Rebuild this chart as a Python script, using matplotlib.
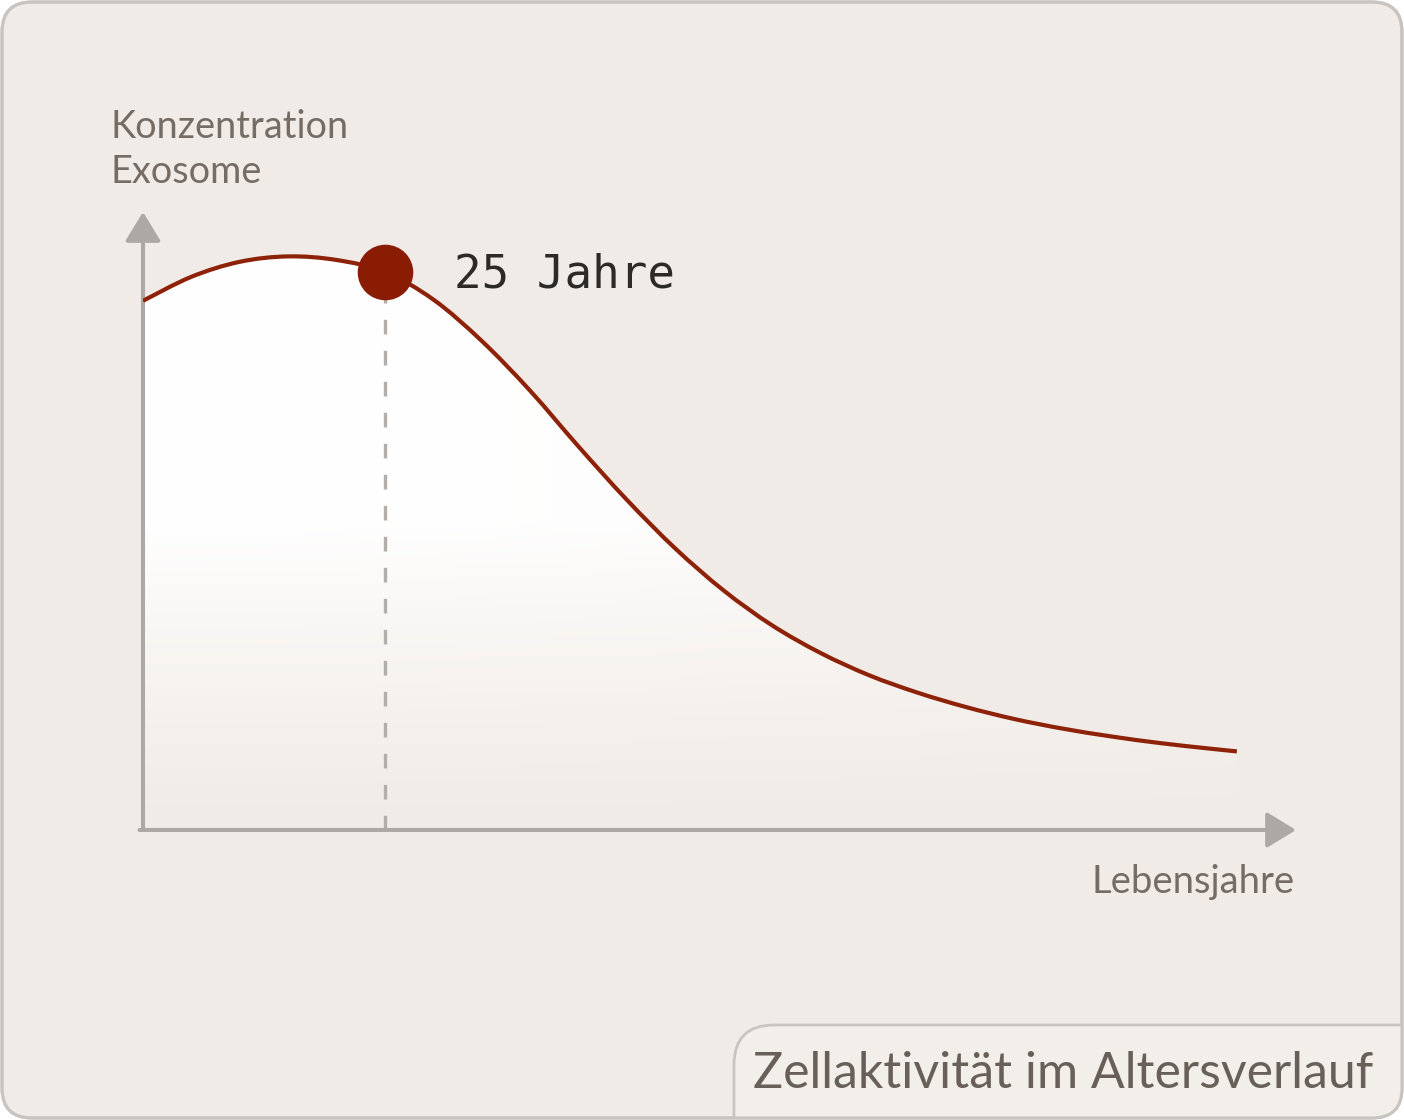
import matplotlib; matplotlib.use('Agg')
import matplotlib.pyplot as plt
import numpy as np
from matplotlib.patches import FancyBboxPatch, PathPatch
from matplotlib.path import Path

BG = '#f0ebe6'
BORDER = '#c9c4c0'
AXIS = '#ada8a4'
CURVE = '#8e2208'
DOT = '#8a1c04'
LABEL = '#756c66'
TITLE = '#685f59'
SANS = ['Lato', 'DejaVu Sans']

# concentration of exosomes over age
ages = [0, 5, 10, 15, 20, 25, 30, 35, 40, 45, 50, 55, 60, 65, 70, 75, 80, 85,
        90, 95, 100, 105, 110, 113]
conc = [88.2, 92.2, 94.7, 95.6, 95.0, 93.0, 88.4, 81.5, 73.2, 63.9, 55.0, 46.9,
        39.9, 34.1, 29.5, 25.8, 22.9, 20.5, 18.5, 16.9, 15.6, 14.5, 13.6, 13.1]
marker_age = 25
marker_label = '25 Jahre'
y_label = ['Konzentration', 'Exosome']
x_label = 'Lebensjahre'
title = 'Zellaktivität im Altersverlauf'

fig = plt.figure(figsize=(14.04, 11.2), dpi=100, facecolor='white')

# background card + tab
bg = fig.add_axes([0, 0, 1, 1])
bg.set_xlim(0, 1404)
bg.set_ylim(1120, 0)
bg.axis('off')
card = FancyBboxPatch((2, 2), 1400, 1116, boxstyle='round,pad=0,rounding_size=30',
                      fc=BG, ec=BORDER, lw=2.2, zorder=1)
bg.add_patch(card)
tab = FancyBboxPatch((734, 1025), 720, 150, boxstyle='round,pad=0,rounding_size=40',
                     fc='#f2eeea', ec=BORDER, lw=2.0, zorder=2)
bg.add_patch(tab)
tab.set_clip_path(card)
edge = FancyBboxPatch((2, 2), 1400, 1116, boxstyle='round,pad=0,rounding_size=30',
                      fc='none', ec=BORDER, lw=2.2, zorder=3)
bg.add_patch(edge)
bg.text(1373, 1088, title, ha='right', va='baseline', fontsize=36, color=TITLE,
        family=SANS)
for line, yb in zip(y_label, [138, 183]):
    bg.text(110, yb, line, ha='left', va='baseline', fontsize=27.3, color=LABEL,
            family=SANS)
bg.text(1295, 893, x_label, ha='right', va='baseline', fontsize=27.5, color=LABEL,
        family=SANS)

# data axes
ax = fig.add_axes([143 / 1404, 290 / 1120, 1153 / 1404, 618 / 1120])
ax.patch.set_alpha(0)
ax.set_xlim(0, 1153 / 9.68)
ax.set_ylim(0, 103)
ax.axis('off')

# smooth path through the points (Catmull-Rom -> cubic Bezier)
P = np.column_stack([ages, conc]).astype(float)
ext = np.vstack([P[0], P, P[-1]])
verts = [tuple(P[0])]
codes = [Path.MOVETO]
for i in range(1, len(ext) - 2):
    p0, p1, p2, p3 = ext[i - 1], ext[i], ext[i + 1], ext[i + 2]
    verts += [tuple(p1 + (p2 - p0) / 6), tuple(p2 - (p3 - p1) / 6), tuple(p2)]
    codes += [Path.CURVE4] * 3
curve = Path(verts, codes)
fill_path = Path(verts + [(ages[-1], 0), (ages[0], 0), (ages[0], conc[0])],
                 codes + [Path.LINETO, Path.LINETO, Path.CLOSEPOLY])

# white gradient under the curve
ny, nx = 300, 300
vv, hh = np.mgrid[0:1:ny * 1j, 0:1:nx * 1j]
alpha = np.clip(vv / 0.5, 0, 1) ** 1.2 * (1 - 0.35 * hh ** 2)
rgba = np.ones((ny, nx, 4))
rgba[..., 3] = np.clip(alpha, 0, 1)
clip = PathPatch(fill_path, fc='none', ec='none', transform=ax.transData)
ax.add_patch(clip)
im = ax.imshow(rgba, extent=(0, 119.1, 0, 103), origin='lower', aspect='auto',
               zorder=1, interpolation='bilinear')
im.set_clip_path(clip)

# dashed guide at the marker
mi = ages.index(marker_age)
ax.plot([marker_age, marker_age], [0, conc[mi]], color='#b3aeaa', lw=2.4,
        dashes=(4.4, 4.9), zorder=2, solid_capstyle='butt')

# axes arrows
arrow = dict(arrowstyle='-|>,head_length=0.9,head_width=0.55', color=AXIS, lw=2.9,
             shrinkA=0, shrinkB=0, mutation_scale=20)
ax.annotate('', xy=(1, 0), xytext=(-0.003, 0), xycoords='axes fraction',
            textcoords='axes fraction', arrowprops=arrow, zorder=3)
ax.annotate('', xy=(0, 1), xytext=(0, 0), xycoords='axes fraction',
            textcoords='axes fraction', arrowprops=arrow, zorder=3)

ax.add_patch(PathPatch(curve, fc='none', ec=CURVE, lw=3.0, zorder=4,
                       capstyle='butt'))
ax.plot([marker_age], [conc[mi]], 'o', ms=39, color=DOT, zorder=5)
ax.annotate(marker_label, xy=(marker_age, conc[mi]), xytext=(50, -2),
            textcoords='offset points', ha='left', va='center', fontsize=33,
            family='DejaVu Sans Mono', color='#2b2a29', zorder=6)

fig.savefig('out.png', dpi=100, facecolor='white')
